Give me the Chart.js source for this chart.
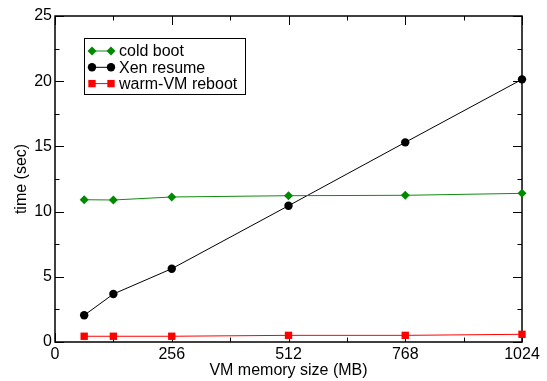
<!DOCTYPE html>
<html>
<head>
  <meta charset="utf-8">
  <script src="https://cdn.jsdelivr.net/npm/chart.js"></script>
  <title>VM memory size vs time</title>
  <style>
    html, body { margin: 0; padding: 0; background: #fff; }
    #wrap { width: 547px; height: 381px; }
  </style>
</head>
<body>
  <div id="wrap"><canvas id="chart" width="547" height="381"></canvas></div>
  <script>
    // values
    const memSizes = [64, 128, 256, 512, 768, 1024];
    const coldBoot = [10.91, 10.89, 11.12, 11.22, 11.25, 11.40];
    const xenResume = [2.05, 3.68, 5.62, 10.45, 15.31, 20.14];
    const warmReboot = [0.44, 0.44, 0.44, 0.51, 0.51, 0.59];

    const xMajor = [0, 256, 512, 768, 1024];
    const xMinor = [128, 384, 640, 896];
    const yMajor = [0, 5, 10, 15, 20, 25];
    const yMinor = [2.5, 7.5, 12.5, 17.5, 22.5];

    const FONT = "'Liberation Sans', Arial, sans-serif";

    const series = [
      { label: "cold boot", data: coldBoot, line: "#118a11", fill: "#008a00", style: "rectRot", radius: 4.5 },
      { label: "Xen resume", data: xenResume, line: "#000000", fill: "#000000", style: "circle", radius: 4.2 },
      { label: "warm-VM reboot", data: warmReboot, line: "#ff0000", fill: "#ff0000", style: "rect", radius: 5.2 }
    ];

    function marker(ctx, style, r, x, y, color) {
      ctx.save();
      ctx.fillStyle = color;
      ctx.beginPath();
      if (style === "circle") {
        ctx.arc(x, y, r, 0, Math.PI * 2);
      } else if (style === "rect") {
        const s = r * Math.SQRT1_2;
        ctx.rect(x - s, y - s, 2 * s, 2 * s);
      } else {
        ctx.moveTo(x, y - r);
        ctx.lineTo(x + r, y);
        ctx.lineTo(x, y + r);
        ctx.lineTo(x - r, y);
        ctx.closePath();
      }
      ctx.fill();
      ctx.restore();
    }

    const framePlugin = {
      id: "frame",
      beforeDatasetsDraw(chart) {
        const { ctx, chartArea: a, scales: { x, y } } = chart;
        ctx.save();
        ctx.strokeStyle = "#000";
        ctx.lineWidth = 1;
        const tick = (vals, len) => {
          vals.forEach(v => {
            const px = Math.round(x.getPixelForValue(v)) + 0.5;
            ctx.moveTo(px, a.bottom); ctx.lineTo(px, a.bottom - len);
            ctx.moveTo(px, a.top); ctx.lineTo(px, a.top + len);
          });
        };
        const ytick = (vals, len) => {
          vals.forEach(v => {
            const py = Math.round(y.getPixelForValue(v)) + 0.5;
            ctx.moveTo(a.left, py); ctx.lineTo(a.left + len, py);
            ctx.moveTo(a.right, py); ctx.lineTo(a.right - len, py);
          });
        };
        ctx.beginPath();
        tick(xMajor, 9); tick(xMinor, 4.5);
        ytick(yMajor, 9); ytick(yMinor, 4.5);
        ctx.stroke();
        ctx.lineWidth = 1.5;
        ctx.strokeRect(a.left, a.top, a.right - a.left, a.bottom - a.top);
        ctx.restore();
      },
      afterDraw(chart) {
        const ctx = chart.ctx;
        ctx.save();
        ctx.fillStyle = "#fff";
        ctx.fillRect(84.5, 38.5, 161, 56);
        ctx.strokeStyle = "#000";
        ctx.lineWidth = 1;
        ctx.strokeRect(84.5, 38.5, 161, 56);
        ctx.font = "16px " + FONT;
        ctx.textBaseline = "middle";
        series.forEach((s, i) => {
          const yy = 51 + i * 16.3;
          ctx.beginPath();
          ctx.strokeStyle = s.line;
          ctx.moveTo(92, yy); ctx.lineTo(111, yy);
          ctx.stroke();
          marker(ctx, s.style, s.radius, 92, yy, s.fill);
          marker(ctx, s.style, s.radius, 111, yy, s.fill);
          ctx.fillStyle = "#000";
          ctx.fillText(s.label, 119, yy + 1);
        });
        ctx.restore();
      }
    };

    new Chart(document.getElementById("chart"), {
      type: "line",
      data: {
        labels: memSizes,
        datasets: series.map(s => ({
          label: s.label,
          data: memSizes.map((m, i) => ({ x: m, y: s.data[i] })),
          borderColor: s.line,
          borderWidth: 1,
          backgroundColor: s.fill,
          pointBackgroundColor: s.fill,
          pointBorderWidth: 0,
          pointStyle: s.style,
          pointRadius: s.radius,
          pointHoverRadius: s.radius,
          tension: 0,
          clip: false
        }))
      },
      options: {
        responsive: false,
        animation: false,
        events: [],
        layout: { padding: { top: 16, right: 25, left: 0, bottom: 0 } },
        plugins: { legend: { display: false }, tooltip: { enabled: false } },
        scales: {
          x: {
            type: "linear",
            min: 0, max: 1024,
            afterFit: s => { s.height = 39; },
            afterBuildTicks: s => { s.ticks = xMajor.map(v => ({ value: v })); },
            grid: { display: false, drawTicks: false },
            border: { display: false },
            ticks: { color: "#000", font: { family: FONT, size: 16 }, padding: 3, maxRotation: 0, callback: v => String(v) },
            title: { display: true, text: "VM memory size (MB)", color: "#000", font: { family: FONT, size: 16 }, padding: { top: 0, bottom: 1 } }
          },
          y: {
            min: 0, max: 25,
            afterFit: s => { s.width = 55; },
            afterBuildTicks: s => { s.ticks = yMajor.map(v => ({ value: v })); },
            grid: { display: false, drawTicks: false },
            border: { display: false },
            ticks: { color: "#000", font: { family: FONT, size: 16 }, padding: 3, callback: v => String(v) },
            title: { display: true, text: "time (sec)", color: "#000", font: { family: FONT, size: 16 }, padding: { top: 12.4, bottom: 0 } }
          }
        }
      },
      plugins: [framePlugin]
    });
  </script>
</body>
</html>
